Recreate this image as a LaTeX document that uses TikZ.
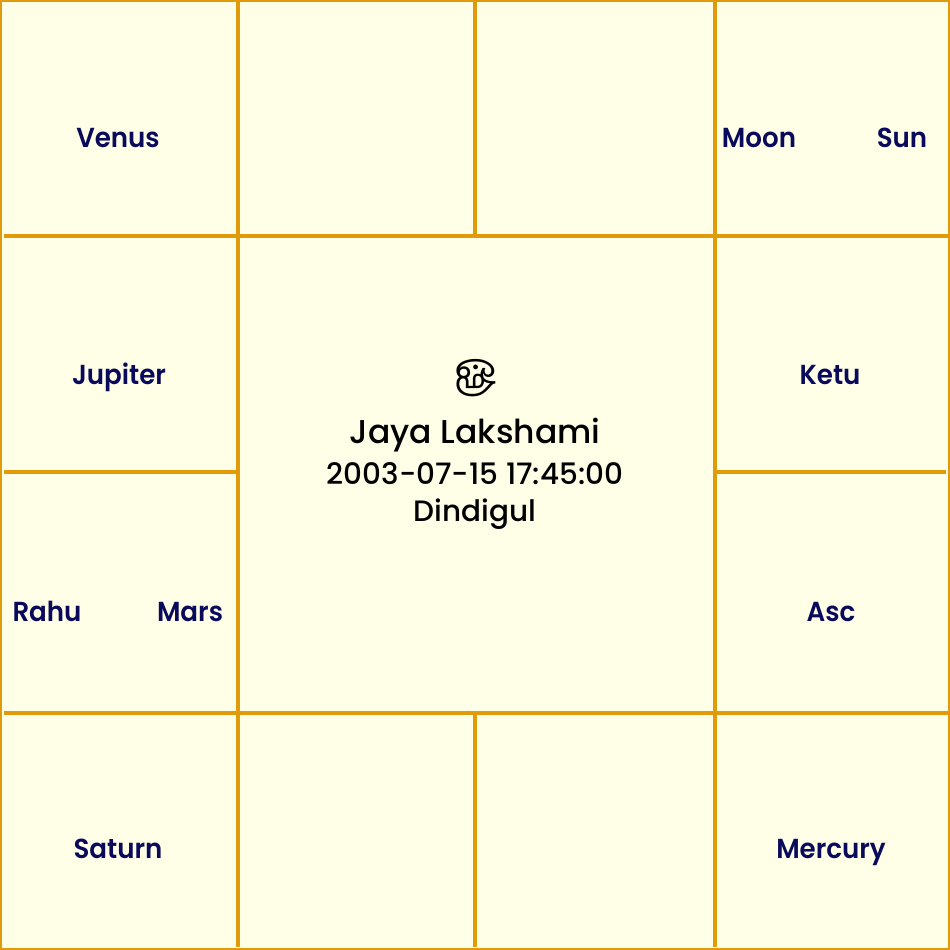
\documentclass[tikz,border=0pt]{standalone}
\usepackage{fontspec}
\setmainfont{Poppins}
\newfontfamily\medfont{Poppins SemiBold}[FakeStretch=0.95]
\newfontfamily\cmedfont{Poppins Medium}
\newfontfamily\tamilfont[Script=Tamil]{Hind Madurai}
\definecolor{bgc}{HTML}{FFFFE8}
\definecolor{linec}{HTML}{E09A0A}
\definecolor{planetc}{HTML}{0A0A5C}
\tikzset{
  grid line/.style={draw=linec, line width=4.5pt},
  planet/.style={text=planetc, font=\medfont\fontsize{27.5}{32}\selectfont, inner sep=0pt, anchor=base},
  center text/.style={text=black, inner sep=0pt, anchor=base}
}
\begin{document}
\begin{tikzpicture}[x=1pt,y=-1pt]
\useasboundingbox (0,0) rectangle (950,950);
\fill[bgc] (0,0) rectangle (950,950);
\draw[linec, line width=2pt] (1,1) rectangle (949,949);
% horizontal lines
\draw[grid line] (4,236) -- (948,236);
\draw[grid line] (4,713) -- (948,713);
\draw[grid line] (4,472) -- (238,472);
\draw[grid line] (715,472) -- (946,472);
% vertical lines
\draw[grid line] (238,2) -- (238,947);
\draw[grid line] (715,2) -- (715,947);
\draw[grid line] (475,2) -- (475,236);
\draw[grid line] (475,713) -- (475,947);
% planets
\node[planet] (venus) at (118,147) {Venus};
\node[planet] (jupiter) at (119,384) {Jupiter};
\node[planet] (rahu) at (47,621) {Rahu};
\node[planet] (mars) at (190,621) {Mars};
\node[planet] (saturn) at (118,858) {Saturn};
\node[planet] (moon) at (759,147) {Moon};
\node[planet] (sun) at (902,147) {Sun};
\node[planet] (ketu) at (830,384) {Ketu};
\node[planet] (asc) at (831,621) {Asc};
\node[planet] (mercury) at (831,858) {Mercury};
% centre
\node[center text, anchor=center, font=\tamilfont\fontsize{42}{46}\selectfont] (om) at (476,378) {ௐ};
\node[center text, font=\cmedfont\fontsize{33}{37}\selectfont] (name) at (475,443) {Jaya Lakshami};
\node[center text, font=\cmedfont\fontsize{29.5}{33}\selectfont] (date) at (475,484) {2003-07-15 17:45:00};
\node[center text, font=\cmedfont\fontsize{29.5}{33}\selectfont] (place) at (475,521) {Dindigul};
\end{tikzpicture}
\end{document}
